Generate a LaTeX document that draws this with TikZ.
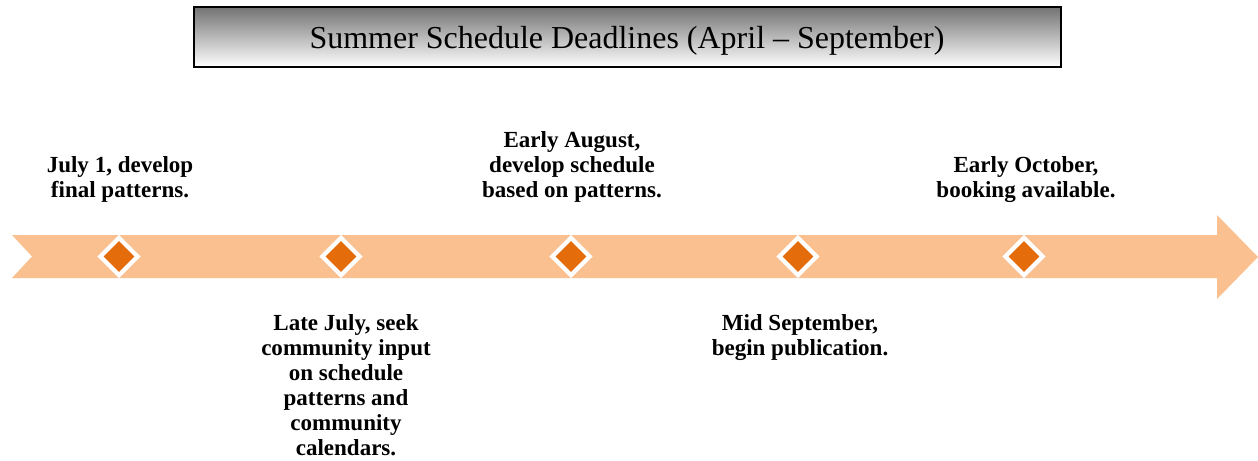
\documentclass[tikz,border=0pt]{standalone}
\usepackage{fontspec}
\setmainfont{Liberation Serif}
\usepackage{tikz}
\usetikzlibrary{shapes.geometric,positioning}

\definecolor{bandorange}{HTML}{FAC090}
\definecolor{dmdorange}{HTML}{E46C0A}

\begin{document}
\begin{tikzpicture}[x=0.02cm, y=-0.02cm,
  lbl/.style={font=\fontsize{13.1}{14.3}\selectfont\bfseries, align=center, inner sep=0pt},
  dmd/.style={diamond, aspect=1, minimum size=0.78cm, inner sep=0pt, fill=dmdorange, draw=white, line width=0.085cm}]
\useasboundingbox (0,0) rectangle (1258,460);

% Title box
\shade[top color=black!55, middle color=black!12, bottom color=white] (194,7) rectangle (1061,67);
\draw[line width=0.03cm] (194,7) rectangle (1061,67);
\node[font=\fontsize{18.2}{20}\selectfont, inner sep=0pt] (title) at (627,41) {Summer Schedule Deadlines (April -- September)};

% Timeline band with arrow head
\fill[bandorange] (12,235) -- (1217,235) -- (1217,215) -- (1258,257) -- (1217,299) -- (1217,278) -- (12,278) -- (32,256.5) -- cycle;

% Milestones
\node[dmd] (m1) at (119,256.5) {};
\node[dmd] (m2) at (341,256.5) {};
\node[dmd] (m3) at (571,256.5) {};
\node[dmd] (m4) at (798,256.5) {};
\node[dmd] (m5) at (1024,256.5) {};

% Labels above the band
\node[lbl, anchor=south] (t1) at (120,203) {July 1, develop\\final patterns.};
\node[lbl, anchor=south] (t3) at (572,203) {Early August,\\develop schedule\\based on patterns.};
\node[lbl, anchor=south] (t5) at (1026,203) {Early October,\\booking available.};

% Labels below the band
\node[lbl, anchor=north] (t2) at (346,314) {Late July, seek\\community input\\on schedule\\patterns and\\community\\calendars.};
\node[lbl, anchor=north] (t4) at (800,314) {Mid September,\\begin publication.};

\end{tikzpicture}
\end{document}
